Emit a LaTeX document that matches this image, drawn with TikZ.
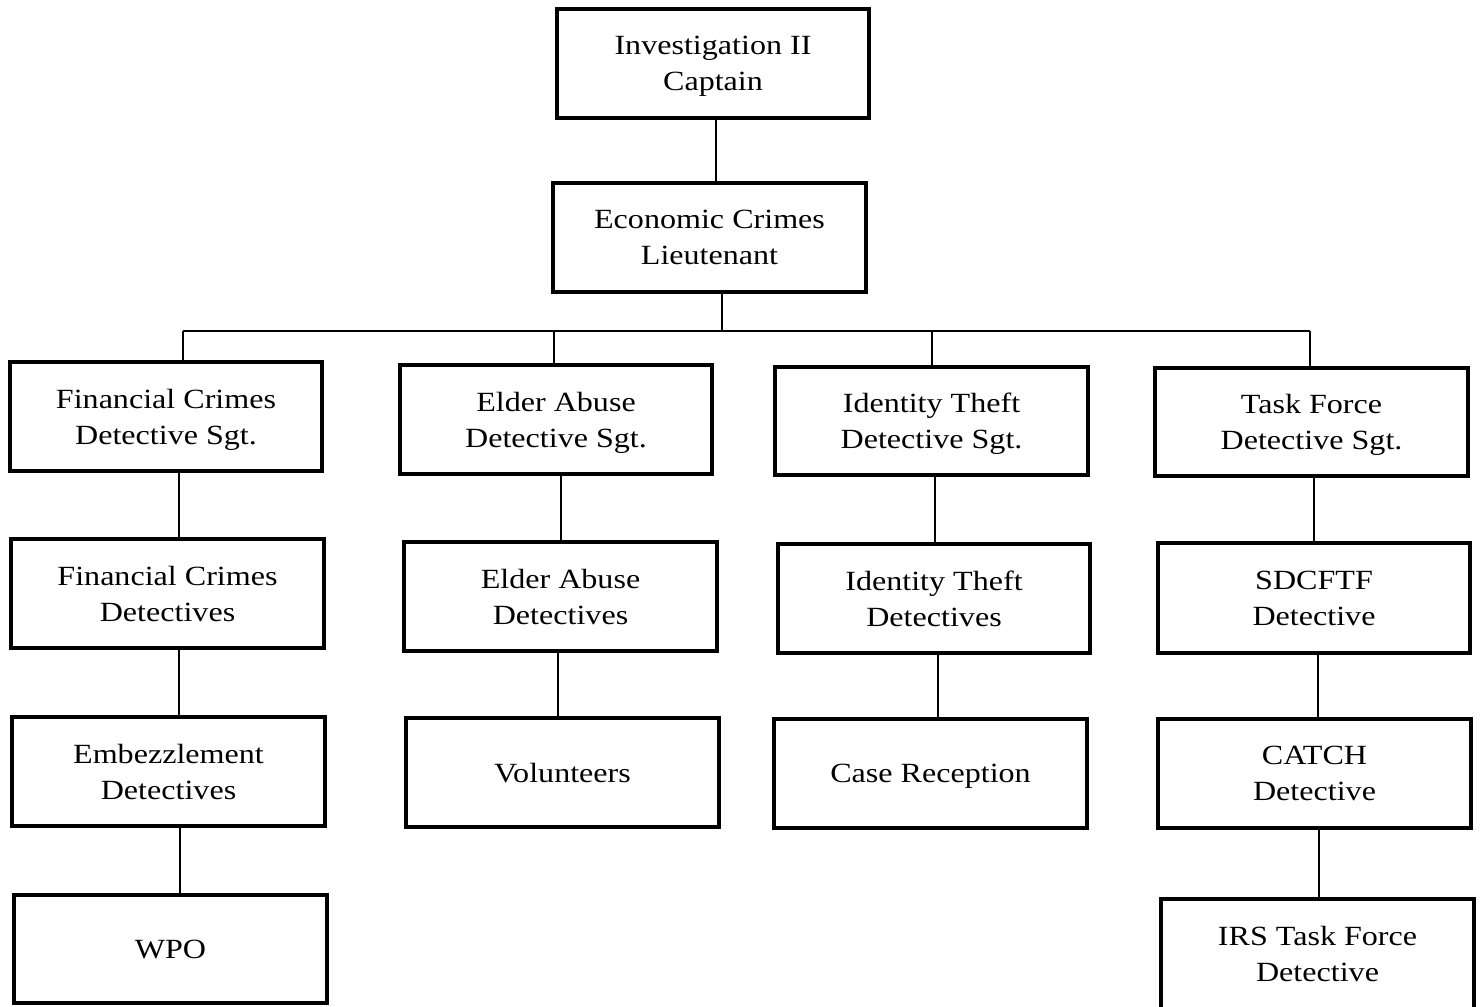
\documentclass[tikz,border=0pt]{standalone}
\usepackage{fontspec}
\setmainfont[FakeStretch=1.155]{Liberation Serif}
\tikzset{
  box/.style={draw=black, line width=1.14pt, fill=white, align=center,
    minimum width=3.12cm, minimum height=1.08cm, inner sep=0pt,
    text depth=-0.85pt,
    font=\fontsize{7.9}{10.3}\selectfont},
  conn/.style={draw=black, line width=0.45pt}
}
\begin{document}
\begin{tikzpicture}[x=0.01cm, y=-0.01cm]
\useasboundingbox (0,0) rectangle (1483,1007);
% top
\node[box] (cap) at (713,63.5) {Investigation II\\Captain};
\node[box, minimum height=1.09cm] (lt) at (709.5,237.5) {Economic Crimes\\Lieutenant};
% row 1
\node[box] (fs) at (166,416.5) {Financial Crimes\\Detective Sgt.};
\node[box] (es) at (556,419.5) {Elder Abuse\\Detective Sgt.};
\node[box] (is) at (931.5,421) {Identity Theft\\Detective Sgt.};
\node[box] (ts) at (1311.5,422) {Task Force\\Detective Sgt.};
% row 2
\node[box, minimum height=1.09cm] (fd) at (167.5,593.5) {Financial Crimes\\Detectives};
\node[box, minimum height=1.09cm] (ed) at (560.5,596.5) {Elder Abuse\\Detectives};
\node[box, minimum height=1.09cm] (id) at (934,598.5) {Identity Theft\\Detectives};
\node[box, minimum height=1.10cm] (sd) at (1314,598) {SDCFTF\\Detective};
% row 3
\node[box, minimum height=1.09cm] (em) at (168.5,771.5) {Embezzlement\\Detectives};
\node[box, minimum height=1.09cm] (vo) at (562.5,772.5) {Volunteers};
\node[box, minimum height=1.09cm] (cr) at (930.5,773.5) {Case Reception};
\node[box, minimum height=1.09cm] (ca) at (1314.5,773.5) {CATCH\\Detective};
% row 4
\node[box] (wp) at (170.5,949) {WPO};
\node[box, minimum height=1.10cm] (ir) at (1317.5,954) {IRS Task Force\\Detective};
% x positions of connectors
\coordinate (x1) at (716,0);
\coordinate (x2) at (722,0);
\coordinate (bus) at (0,331);
\coordinate (b1) at (183,0);
\coordinate (b2) at (554,0);
\coordinate (b3) at (932,0);
\coordinate (b4) at (1310,0);
\coordinate (c1) at (179,0);
\coordinate (c2) at (561,0);
\coordinate (c3) at (935,0);
\coordinate (c4) at (1314,0);
\coordinate (d1) at (179,0);
\coordinate (d2) at (558,0);
\coordinate (d3) at (938,0);
\coordinate (d4) at (1318,0);
\coordinate (e1) at (180,0);
\coordinate (e4) at (1319,0);
% connectors
\draw[conn] (cap.south -| x1) -- (lt.north -| x1);
\draw[conn] (lt.south -| x2) -- (bus -| x2);
\draw[conn] (bus -| b1) -- (bus -| b4);
\draw[conn] (bus -| b1) -- (fs.north -| b1);
\draw[conn] (bus -| b2) -- (es.north -| b2);
\draw[conn] (bus -| b3) -- (is.north -| b3);
\draw[conn] (bus -| b4) -- (ts.north -| b4);
\draw[conn] (fs.south -| c1) -- (fd.north -| c1);
\draw[conn] (es.south -| c2) -- (ed.north -| c2);
\draw[conn] (is.south -| c3) -- (id.north -| c3);
\draw[conn] (ts.south -| c4) -- (sd.north -| c4);
\draw[conn] (fd.south -| d1) -- (em.north -| d1);
\draw[conn] (ed.south -| d2) -- (vo.north -| d2);
\draw[conn] (id.south -| d3) -- (cr.north -| d3);
\draw[conn] (sd.south -| d4) -- (ca.north -| d4);
\draw[conn] (em.south -| e1) -- (wp.north -| e1);
\draw[conn] (ca.south -| e4) -- (ir.north -| e4);
\end{tikzpicture}
\end{document}
